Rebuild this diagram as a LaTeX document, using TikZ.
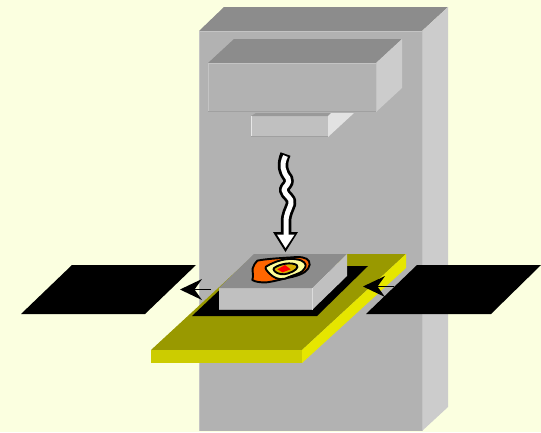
\documentclass[tikz,border=0pt]{standalone}
\usetikzlibrary{arrows.meta}
\definecolor{bg}{HTML}{FBFFE0}
\definecolor{fronta}{HTML}{B2B2B2}
\definecolor{topa}{HTML}{8C8C8C}
\definecolor{sidea}{HTML}{CCCCCC}
\definecolor{frontb}{HTML}{C0C0C0}
\definecolor{sideb}{HTML}{E2E2E2}
\definecolor{topb}{HTML}{999999}
\definecolor{plate}{HTML}{999900}
\definecolor{platef}{HTML}{CCCC00}
\definecolor{plates}{HTML}{E6E600}
\definecolor{lite}{HTML}{C4C4C4}
\definecolor{dark}{HTML}{A0A0A0}
\definecolor{orng}{HTML}{FF6600}
\definecolor{pale}{HTML}{FFFF99}
\definecolor{gold}{HTML}{D8B000}
\tikzset{
  face/.style={fill=#1,draw=none},
  hilite/.style={draw=lite,line width=1pt},
  shade/.style={draw=dark,line width=1pt},
  blob/.style={fill=#1,draw=black,line width=1.9pt,line join=round},
  thinarrow/.style={draw=black,line width=1.5pt},
  archead/.style={fill=black,draw=none}
}
\begin{document}
\begin{tikzpicture}[x=1pt,y=-1pt]
\useasboundingbox (0,0) rectangle (541,432);
\fill[bg] (0,0) rectangle (541,432);
% tower
\path[face=fronta] (199,31) rectangle (422,431);
\path[face=topa] (199,31) -- (224,7) -- (448,7) -- (422,31) -- cycle;
\path[face=sidea] (422,31) -- (448,7) -- (448,407) -- (422,431) -- cycle;
\draw[hilite] (199.5,431) -- (199.5,31) -- (422,31);
\draw[hilite] (422.5,31) -- (422.5,431);
% upper box
\path[face=fronta] (208,63) rectangle (376,112);
\path[face=topa] (208,63) -- (234,39) -- (402,39) -- (376,63) -- cycle;
\path[face=sidea] (376,63) -- (402,39) -- (402,88) -- (376,112) -- cycle;
\draw[hilite] (208.5,112) -- (208.5,63) -- (376,63);
\draw[hilite] (376.5,63) -- (376.5,112);
\draw[shade] (208,111.7) -- (376,111.7);
% lower box
\path[face=frontb] (251,116) rectangle (328,136);
\path[face=topb] (251,116) -- (256,113) -- (333,113) -- (328,116) -- cycle;
\path[face=sideb] (328,116) -- (331,113) -- (354,113) -- (328,137) -- cycle;
\draw[draw=white!60!lite,line width=.8pt] (251.4,136) -- (251.4,116);
\draw[shade] (251,136) -- (328,136);
% plate
\path[face=plate] (151,350) -- (255,254) -- (406,254) -- (302,350) -- cycle;
\path[face=platef] (151,350) rectangle (302,363);
\path[face=plates] (302,350) -- (406,254) -- (406,268) -- (302,363) -- cycle;
% black frame
\path[face=black] (192,316) -- (245,266) -- (368,266) -- (317,316) -- cycle;
% stage box
\path[face=frontb] (219,288) rectangle (312,310);
\path[face=topa] (219,288) -- (254,254) -- (347,254) -- (312,288) -- cycle;
\path[face=frontb] (312,288) -- (347,254) -- (347,276) -- (312,310) -- cycle;
\draw[shade] (219,309.6) -- (312,309.6);
\draw[draw=lite!60!white,line width=.8pt] (312,288) -- (312,310);
% heat pattern
\begin{scope}[shift={(240,250)},x=.3333pt,y=-.3333pt]
\draw[blob=orng] (52,32) .. controls (80,26) and (130,24) .. (170,21)
  .. controls (195,21) and (210,27) .. (209,44) .. controls (206,62) and (190,72) .. (160,80)
  .. controls (130,86) and (105,94) .. (80,97) .. controls (60,98) and (45,95) .. (37,90)
  .. controls (42,75) and (36,65) .. (38,55) .. controls (42,45) and (45,38) .. (52,32) -- cycle;
\draw[blob=pale] (78,50) .. controls (105,33) and (140,23) .. (170,28)
  .. controls (192,31) and (200,42) .. (196,52) .. controls (190,70) and (160,74) .. (135,86)
  .. controls (115,92) and (98,80) .. (90,72) .. controls (80,62) and (74,55) .. (78,50) -- cycle;
\draw[blob=gold] (102,54) .. controls (122,40) and (155,36) .. (170,45)
  .. controls (178,52) and (165,64) .. (145,70) .. controls (130,76) and (112,72) .. (104,64)
  .. controls (100,60) and (100,56) .. (102,54) -- cycle;
\path[fill=red] (112,58) -- (135,45) -- (152,58) -- (128,67) -- cycle;
\end{scope}
% wavy beam
\draw[black,line width=10.5pt,line join=round] (285.5,154) .. controls (281,165) and (283,172) .. (288,178)
  .. controls (291,184) and (284,186) .. (284,190) .. controls (285,196) and (293,198) .. (291,204)
  .. controls (289,210) and (286,214) .. (286,222) -- (286,234);
\path[fill=black] (273,232) -- (298,232) -- (285.5,252) -- cycle;
\draw[white,line width=5pt,line join=round] (285.5,156) .. controls (281,165) and (283,172) .. (288,178)
  .. controls (291,184) and (284,186) .. (284,190) .. controls (285,196) and (293,198) .. (291,204)
  .. controls (289,210) and (286,214) .. (286,222) -- (286,236);
\path[fill=white] (277,234.5) -- (294.5,234.5) -- (285.5,248) -- cycle;
% left panel
\path[face=black] (21,314) -- (72,265) -- (196,265) -- (145,314) -- cycle;
% right panel
\path[face=black] (366,314) -- (417,265) -- (541,265) -- (491,314) -- cycle;
% arrows
\coordinate (ltip) at (180,289.5);
\coordinate (ltail) at (211,289.5);
\draw[thinarrow] (ltail) -- (194,289.5);
\path[archead] (ltip) -- (202,279) -- (194.5,289.5) -- (202,300) -- cycle;
\coordinate (rtip) at (363,286.5);
\coordinate (rtail) at (394,286.5);
\draw[thinarrow] (rtail) -- (377,286.5);
\path[archead] (rtip) -- (385,276) -- (377.5,286.5) -- (385,297) -- cycle;
\end{tikzpicture}
\end{document}
